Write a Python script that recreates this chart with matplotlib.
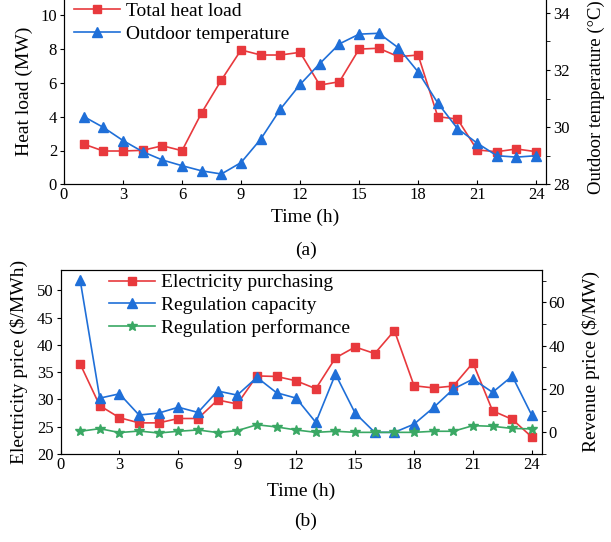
import numpy as np
import matplotlib
matplotlib.use("Agg")
import matplotlib.pyplot as plt
from matplotlib.ticker import MultipleLocator

matplotlib.rcParams.update({'font.family': 'serif',
                            'font.serif': ['Liberation Serif', 'DejaVu Serif'],
                            'mathtext.fontset': 'stix'})

hours = np.arange(1, 25)

# (a) heat load (MW) and outdoor temperature (degC)
heat_load = [2.38, 1.97, 1.97, 2.01, 2.28, 1.99, 4.24, 6.17, 7.95, 7.65, 7.65, 7.81,
             5.87, 6.07, 8.00, 8.05, 7.55, 7.65, 4.00, 3.86, 2.03, 1.93, 2.09, 1.93]
outdoor_temp = [30.37, 29.99, 29.53, 29.14, 28.85, 28.65, 28.47, 28.36, 28.76, 29.58, 30.63, 31.49,
                32.22, 32.91, 33.25, 33.28, 32.77, 31.93, 30.84, 29.95, 29.44, 29.00, 28.95, 29.00]

# (b) prices
elec_price = [36.5, 28.85, 26.65, 25.7, 25.7, 26.5, 26.5, 29.9, 29.15, 34.3, 34.2, 33.4,
              31.96, 37.6, 39.6, 38.4, 42.6, 32.5, 32.1, 32.45, 36.7, 27.9, 26.35, 23.1]
reg_capacity = [70.4, 15.8, 17.8, 8.0, 8.9, 11.6, 9.2, 19.1, 17.2, 25.4, 18.3, 15.8,
                4.6, 26.9, 8.9, 0.0, 0.0, 3.8, 11.5, 20.0, 24.6, 18.5, 26.0, 7.8]
reg_performance = [0.5, 1.7, -0.1, 0.6, -0.3, 0.5, 1.1, -0.1, 0.8, 3.5, 2.5, 1.1,
                   0.0, 0.5, 0.0, 0.0, 0.0, 0.0, 0.5, 0.5, 3.1, 2.8, 1.8, 1.6]

red = "#e8393d"
blue = "#1f6fd8"
green = "#3aa864"

fs_tick = 12
fs_lab = 14
fs_leg = 14


def style_x(ax):
    ax.xaxis.set_major_locator(MultipleLocator(3))
    ax.tick_params(axis='x', labelsize=fs_tick, direction='in', length=3, pad=2)
    ax.tick_params(axis='y', labelsize=fs_tick, direction='out', length=3, pad=2)


fig = plt.figure(figsize=(6.11, 5.42), dpi=100)

# ---------- (a) ----------
ax1 = fig.add_axes([64/611, 1-184.3/542, (546-64)/611, (184.3+1.6)/542])
l1, = ax1.plot(hours, heat_load, color=red, marker='s', markersize=5.5, lw=1.2, label='Total heat load')
ax1.set_xlim(0, 24.5)
ax1.set_ylim(0, 11)
style_x(ax1)
ax1.yaxis.set_major_locator(MultipleLocator(2))
ax1.set_ylabel("Heat load (MW)", fontsize=fs_lab, labelpad=5)
ax1.set_xlabel("Time (h)", fontsize=fs_lab, labelpad=4)

ax1r = ax1.twinx()
l2, = ax1r.plot(hours, outdoor_temp, color=blue, marker='^', markersize=6.5, lw=1.2, label='Outdoor temperature')
ax1r.set_ylim(28, 34.5)
ax1r.yaxis.set_major_locator(MultipleLocator(2))
ax1r.yaxis.set_minor_locator(MultipleLocator(1))
ax1r.tick_params(labelsize=fs_tick, direction='out', length=3, pad=2)
ax1r.tick_params(which='minor', direction='out', length=3)
ax1r.set_ylabel("Outdoor temperature (°C)", fontsize=13.5, labelpad=13)
ax1r.yaxis.label.set_y(0.47)
ax1.legend(handles=[l1, l2], loc='upper left', bbox_to_anchor=(0.0, 1.031), fontsize=fs_leg,
           frameon=False, borderaxespad=0.1, handlelength=2.4, handletextpad=0.3,
           labelspacing=0.26)
fig.text(0.5, 1-250/542, "(a)", ha='center', va='center', fontsize=fs_lab)

# ---------- (b) ----------
ax2 = fig.add_axes([60.5/611, 1-454/542, (541.7-60.5)/611, (454-270)/542])
p1, = ax2.plot(hours, elec_price, color=red, marker='s', markersize=5.5, lw=1.2, label='Electricity purchasing')
ax2.set_xlim(0, 24.5)
ax2.set_ylim(20, 53.7)
style_x(ax2)
ax2.yaxis.set_major_locator(MultipleLocator(5))
ax2.set_ylabel("Electricity price (\\$/MWh)", fontsize=fs_lab, labelpad=6.5)
ax2.set_xlabel("Time (h)", fontsize=fs_lab, labelpad=7)

ax2r = ax2.twinx()
p2, = ax2r.plot(hours, reg_capacity, color=blue, marker='^', markersize=6.5, lw=1.2, label='Regulation capacity')
p3, = ax2r.plot(hours, reg_performance, color=green, marker='*', markersize=7, lw=1.2, label='Regulation performance')
ax2r.set_ylim(-10, 75)
ax2r.yaxis.set_major_locator(MultipleLocator(20))
ax2r.yaxis.set_minor_locator(MultipleLocator(10))
ax2r.tick_params(labelsize=fs_tick, direction='out', length=3, pad=2)
ax2r.tick_params(which='minor', direction='out', length=3)
ax2r.set_ylabel("Revenue price (\\$/MW)", fontsize=fs_lab, labelpad=12)
ax2.legend(handles=[p1, p2, p3], loc='upper left', bbox_to_anchor=(0.076, 1.043), fontsize=fs_leg,
           frameon=False, borderaxespad=0.2, handlelength=2.4, handletextpad=0.3,
           labelspacing=0.26)
fig.text(0.5, 1-521/542, "(b)", ha='center', va='center', fontsize=fs_lab)

fig.savefig("out.png", dpi=100)
